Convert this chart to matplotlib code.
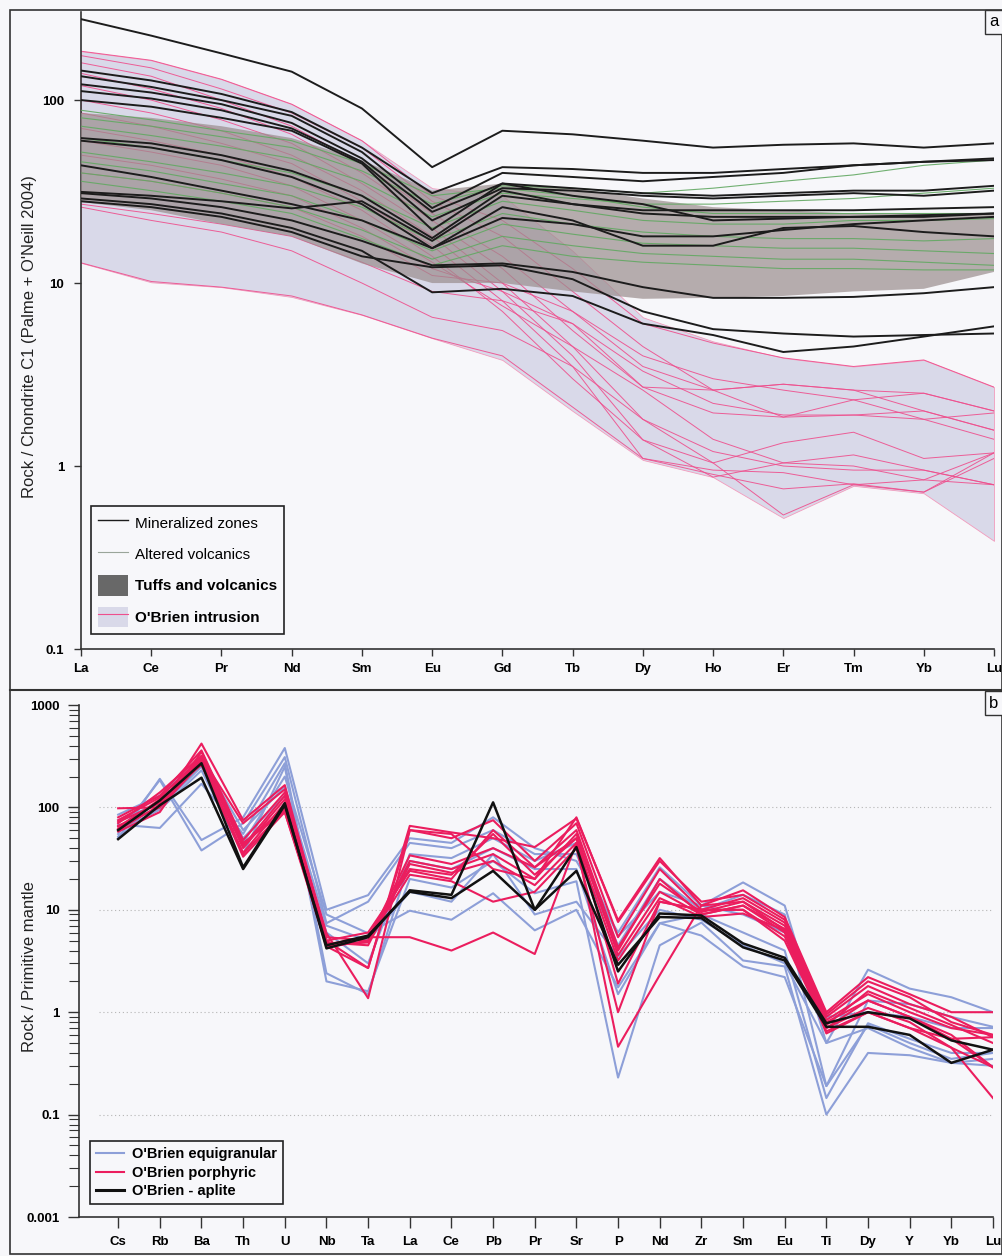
import numpy as np
import matplotlib
matplotlib.use('Agg')
import matplotlib.pyplot as plt
from matplotlib.lines import Line2D
from matplotlib.patches import Patch, Rectangle
from matplotlib.ticker import FixedLocator, FixedFormatter, LogLocator, NullFormatter

plt.rcParams['font.family'] = ['Liberation Sans', 'DejaVu Sans']

# ---------------- data: panel a (chondrite-normalised REE) ----------------
ree = ['La', 'Ce', 'Pr', 'Nd', 'Sm', 'Eu', 'Gd', 'Tb', 'Dy', 'Ho', 'Er', 'Tm', 'Yb', 'Lu']

mineralized = [
    [277, 225, 180, 143, 90, 43, 68, 65, 60, 55, 57, 58, 55, 58],
    [145, 128, 108, 86, 55, 31, 43, 42, 40, 40, 42, 44, 46, 47],
    [135, 118, 100, 82, 52, 25.7, 40, 38, 36, 38, 40, 44, 46, 48],
    [122, 110, 95, 75, 48, 24.5, 35, 33, 31, 30, 31, 32, 32, 34],
    [112, 102, 88, 70, 46, 22, 33, 32, 30, 29, 30, 31, 30, 32],
    [100, 92, 80, 68, 45, 19.5, 35, 30, 27, 22, 22.5, 23, 23, 24],
    [62, 58, 50, 41, 30, 17.6, 32, 27, 25, 25, 25, 25, 25.5, 26],
    [60, 55, 47, 38, 27, 15.5, 22.7, 21, 18, 18, 19.5, 21, 22, 23],
    [44, 38, 32, 27, 22, 15.5, 26, 22, 16, 16, 20, 20.5, 19, 18],
    [31, 29, 26, 22, 17, 12.5, 12.8, 11.5, 9.5, 8.3, 8.3, 8.4, 8.8, 9.5],
    [31.5, 30, 28, 25.6, 28, 17, 30, 27, 24, 23, 23, 23, 23.5, 24],
    [29, 27, 24, 20, 15, 8.9, 9.3, 8.5, 6.0, 5.2, 4.2, 4.5, 5.1, 5.8],
    [28, 26, 23, 19, 14, 12.2, 12.5, 10.5, 7.0, 5.6, 5.3, 5.1, 5.2, 5.3],
]

altered = [
    [80, 72, 63, 55, 41, 27, 34, 33, 31, 33, 36, 39, 44, 47],
    [72, 64, 56, 48, 36, 23, 31, 29, 27, 27, 28, 29, 31, 33],
    [62, 55, 47, 40, 30, 20, 28, 25, 22, 21, 21, 22, 22, 22.5],
    [52, 46, 40, 34, 26, 17, 24, 21, 19, 18, 17.5, 17.5, 17, 17.5],
    [46, 41, 35, 30, 22, 15, 21, 18.5, 16.5, 16, 15.5, 15.5, 15, 14.5],
    [40, 36, 31, 26, 19.5, 13.5, 18, 16, 14.5, 14, 13.5, 13.5, 13, 12.5],
    [36, 32, 28, 24, 17.5, 12.5, 16, 14, 13, 12.5, 12, 12, 11.8, 11.8],
    [88, 78, 68, 60, 45, 30, 33, 30, 26, 24, 24, 24, 24, 24],
]

tuffs_max = [85, 80, 72, 62, 47, 32, 35, 33, 29, 26, 25, 24, 24, 24]
tuffs_min = [27.7, 25, 21, 18, 12.8, 10, 10, 9, 8.2, 8.3, 8.5, 9.0, 9.3, 11.5]

obrien_max = [185, 165, 130, 95, 60, 33, 30, 15, 6.5, 4.8, 3.9, 3.5, 3.8, 2.7]
obrien_min = [12.9, 10.1, 9.5, 8.4, 6.7, 5.0, 3.8, 2.0, 1.08, 0.87, 0.52, 0.78, 0.71, 0.39]

obrien_lines = [
    [185, 165, 130, 95, 60, 30, 22, 12, 6.0, 4.7, 3.9, 3.5, 3.8, 2.7],
    [175, 150, 115, 85, 55, 28, 18, 9, 4.5, 2.6, 2.8, 2.6, 2.5, 2.0],
    [160, 135, 100, 72, 45, 24, 14, 7, 3.5, 2.6, 1.85, 1.9, 2.0, 1.57],
    [140, 115, 90, 65, 40, 22, 12, 5.5, 2.7, 1.95, 1.85, 2.3, 1.8, 1.95],
    [120, 100, 78, 58, 35, 20, 10, 4.5, 1.8, 1.04, 1.34, 1.53, 1.1, 1.18],
    [100, 85, 68, 50, 32, 18, 9, 4.0, 1.39, 0.87, 1.04, 1.15, 0.95, 0.79],
    [85, 72, 58, 45, 28, 16, 8, 3.5, 1.1, 0.95, 0.92, 0.79, 0.84, 1.18],
    [70, 60, 50, 38, 25, 14, 7, 3.0, 1.39, 1.04, 0.54, 0.79, 0.72, 1.18],
    [60, 52, 44, 34, 22, 13, 7.5, 4.5, 2.6, 1.4, 1.04, 1.0, 0.84, 0.79],
    [50, 44, 37, 30, 20, 12, 9, 6, 2.7, 2.6, 2.8, 2.6, 2.0, 1.57],
    [40, 36, 31, 26, 18, 11, 10, 7, 4, 3.0, 2.6, 2.3, 2.5, 2.0],
    [27, 24, 21, 18, 13, 9, 8, 6, 3.3, 2.2, 1.9, 1.9, 1.8, 1.4],
    [26, 22, 19, 15, 10, 6.5, 5.5, 3.5, 1.8, 1.2, 1.0, 0.95, 0.95, 0.79],
    [12.9, 10.2, 9.5, 8.5, 6.7, 5.0, 4.0, 2.1, 1.1, 0.9, 0.75, 0.8, 0.72, 1.1],
]

# ---------------- data: panel b (primitive-mantle spider) ----------------
spider = ['Cs', 'Rb', 'Ba', 'Th', 'U', 'Nb', 'Ta', 'La', 'Ce', 'Pb', 'Pr',
          'Sr', 'P', 'Nd', 'Zr', 'Sm', 'Eu', 'Ti', 'Dy', 'Y', 'Yb', 'Lu']

equigranular = [
    [50, 190, 48, 80, 380, 10, 13.9, 50, 45, 80, 40, 30, 6, 26, 11, 18.5, 11, 0.5, 2.6, 1.7, 1.4, 1.0],
    [55, 185, 38, 70, 310, 7.4, 12, 45, 40, 60, 35, 35, 4.5, 20, 10, 14, 9, 0.19, 1.3, 1.2, 0.9, 0.72],
    [68, 63, 170, 55, 270, 2.4, 1.5, 30, 25, 40, 25, 25, 1.5, 7.4, 9, 6, 4, 0.145, 0.78, 0.55, 0.4, 0.4],
    [60, 95, 230, 35, 250, 2.0, 1.6, 20, 16.5, 30, 14.5, 19, 0.23, 4.5, 7.5, 3.2, 2.8, 0.1, 0.4, 0.38, 0.32, 0.35],
    [75, 110, 280, 45, 200, 9, 5.9, 9.8, 8, 14.5, 6.3, 10, 1.75, 7.4, 5.6, 2.8, 2.2, 0.19, 0.75, 0.5, 0.35, 0.4],
    [85, 130, 300, 60, 160, 7, 5, 15, 12, 35, 9, 12, 3.5, 10, 8, 4.5, 3, 0.5, 0.7, 0.45, 0.32, 0.3],
    [52, 100, 250, 50, 130, 6, 3, 35, 32, 50, 30, 45, 5.5, 15, 11, 9, 6, 0.9, 1.0, 0.9, 0.7, 0.7],
]

porphyric = [
    [98, 100, 420, 75, 165, 5.0, 2.7, 66, 57, 50, 41, 78, 7.9, 32, 11, 15.5, 8.5, 1.0, 2.2, 1.5, 1.0, 1.0],
    [80, 130, 360, 48, 140, 5.9, 1.37, 60, 50, 75, 30, 70, 5.4, 25, 10, 13, 7.5, 0.9, 1.8, 1.2, 0.9, 0.57],
    [70, 140, 320, 42, 130, 5.4, 5.0, 34, 28, 40, 26, 60, 4.3, 18, 9.5, 12, 7, 0.84, 1.5, 1.0, 0.7, 0.6],
    [65, 115, 300, 40, 120, 4.5, 4.8, 30, 25, 35, 20, 55, 3.6, 15, 9, 11, 6.5, 0.8, 1.3, 0.9, 0.6, 0.29],
    [60, 105, 280, 36, 110, 4.8, 4.5, 28, 23, 30, 17.4, 45, 3.2, 13, 8.5, 9.2, 6.3, 0.62, 1.0, 0.7, 0.45, 0.29],
    [58, 90, 350, 45, 90, 5.0, 6.0, 24, 20, 60, 26, 50, 1.9, 12, 10, 10, 5.5, 0.7, 1.1, 0.8, 0.45, 0.145],
    [62, 120, 260, 35, 95, 4.6, 5.4, 5.4, 4.0, 6.0, 3.7, 45, 0.46, 2.3, 11, 12, 6.3, 0.65, 1.0, 0.7, 0.55, 0.57],
    [75, 125, 310, 70, 150, 4.4, 2.7, 60, 55, 25, 20, 80, 7.6, 30, 12, 14, 8, 0.95, 2.0, 1.4, 0.8, 0.6],
    [72, 110, 290, 44, 100, 4.3, 5.0, 22, 19, 12, 15, 40, 1.0, 12, 10, 10, 5, 0.7, 1.3, 0.9, 0.55, 0.29],
    [66, 100, 270, 33, 90, 4.5, 5.5, 25, 22, 55, 22, 50, 4.0, 20, 9, 11, 6, 0.75, 1.6, 1.1, 0.75, 0.5],
]

aplite = [
    [60, 117, 270, 26, 110, 4.2, 5.4, 15.5, 14, 112, 10, 41, 2.5, 9.2, 8.8, 4.7, 3.4, 0.78, 1.0, 0.87, 0.53, 0.43],
    [49, 105, 195, 25, 105, 4.5, 5.6, 15, 13, 24, 10, 24, 2.9, 8.5, 8.3, 4.3, 3.2, 0.72, 0.72, 0.6, 0.32, 0.43],
]

# ---------------- figure ----------------
W, H = 1003, 1256
BG = '#f7f7fa'
fig = plt.figure(figsize=(W / 100, H / 100), dpi=100, facecolor=BG)


def fx(px):
    return px / W


def fy(py):
    return 1 - py / H


BLACK = '#1c1c1c'
GREEN = '#62a862'
PINK = '#ee4f8d'
LAV = '#d9d9e9'
BAND = '#9a8d8d'
BLUE = '#8d9fd8'
RED = '#eb1d5e'

# ---------- panel a ----------
ax1 = fig.add_axes([fx(81), fy(649), fx(994) - fx(81), fy(12) - fy(649)])
ax1.set_facecolor('none')
xa = np.arange(len(ree))
ax1.fill_between(xa, obrien_min, obrien_max, facecolor=LAV, edgecolor='#f29bbd',
                 linewidth=0.6, zorder=1)
for row in obrien_lines:
    ax1.plot(xa, row, color=PINK, lw=0.7, alpha=0.9, zorder=2)
ax1.fill_between(xa, tuffs_min, tuffs_max, facecolor=BAND, edgecolor='none',
                 alpha=0.7, zorder=3)
for row in altered:
    ax1.plot(xa, row, color=GREEN, lw=0.8, alpha=0.9, zorder=4)
for row in mineralized:
    ax1.plot(xa, row, color=BLACK, lw=1.4, zorder=5)

ax1.set_yscale('log')
ax1.set_xlim(0, len(ree) - 1)
ax1.set_ylim(0.1, 303)
ax1.set_xticks(xa)
ax1.set_xticklabels(ree, fontweight='bold', fontsize=9.5)
ax1.yaxis.set_major_locator(FixedLocator([0.1, 1, 10, 100]))
ax1.yaxis.set_major_formatter(FixedFormatter(['0.1', '1', '10', '100']))
ax1.yaxis.set_minor_locator(FixedLocator([]))
for t in ax1.get_yticklabels():
    t.set_fontweight('bold')
    t.set_fontsize(9.5)
ax1.tick_params(axis='both', direction='out', length=5, width=1, color='#333333', pad=5)
ax1.tick_params(axis='y', pad=7)
for s in ['top', 'right']:
    ax1.spines[s].set_visible(False)
for s in ['left', 'bottom']:
    ax1.spines[s].set_color('#333333')
    ax1.spines[s].set_linewidth(1.2)
ax1.set_ylabel("Rock / Chondrite C1 (Palme + O'Neill 2004)", fontsize=12, color='#222222')
ax1.yaxis.set_label_coords(-0.048, 0.49)

h1 = [Line2D([], [], color=BLACK, lw=1.0),
      Line2D([], [], color='#9aa59a', lw=0.8),
      Patch(facecolor='#686868', edgecolor='none'),
      (Patch(facecolor=LAV, edgecolor='none'), Line2D([], [], color=PINK, lw=0.8))]
l1 = ['Mineralized zones', 'Altered volcanics', 'Tuffs and volcanics', "O'Brien intrusion"]
leg1 = ax1.legend(h1, l1, loc='lower left', bbox_to_anchor=(0.011, 0.0235), borderaxespad=0,
                  fontsize=11, frameon=True, fancybox=False, edgecolor='#222222',
                  facecolor=BG, framealpha=1, handlelength=2.0, handleheight=1.7,
                  handletextpad=0.45, labelspacing=0.7, borderpad=0.45)
leg1.get_frame().set_linewidth(1.2)
leg1.set_zorder(10)
for t in leg1.get_texts()[2:]:
    t.set_fontweight('bold')

# ---------- panel b ----------
ax2 = fig.add_axes([fx(79), fy(1217), fx(993) - fx(79), fy(705) - fy(1217)])
ax2.set_facecolor('none')
xb = np.arange(len(spider))
ax2.hlines([0.1, 1, 10, 100], -0.45, len(spider) - 1, colors='#b5b5b5',
           linestyles=(0, (1, 2.5)), lw=0.8, zorder=0)
for row in equigranular:
    ax2.plot(xb, row, color=BLUE, lw=1.5, zorder=2)
for row in porphyric:
    ax2.plot(xb, row, color=RED, lw=1.5, zorder=3)
for row in aplite:
    ax2.plot(xb, row, color='#111111', lw=1.8, zorder=4)

ax2.set_yscale('log')
ax2.set_xlim(-0.94, len(spider) - 1)
ax2.set_ylim(0.01, 1000)
ax2.set_xticks(xb)
ax2.set_xticklabels(spider, fontweight='bold', fontsize=9.5)
ax2.yaxis.set_major_locator(FixedLocator([0.01, 0.1, 1, 10, 100, 1000]))
ax2.yaxis.set_major_formatter(FixedFormatter(['0.001', '0.1', '1', '10', '100', '1000']))
ax2.yaxis.set_minor_locator(LogLocator(base=10, subs=np.arange(2, 10)))
ax2.yaxis.set_minor_formatter(NullFormatter())
for t in ax2.get_yticklabels():
    t.set_fontweight('bold')
    t.set_fontsize(9.5)
ax2.tick_params(axis='both', which='major', direction='out', length=8, width=1,
                color='#333333', pad=6)
ax2.tick_params(axis='y', which='minor', direction='out', length=7, width=0.8, color='#333333')
for s in ['top', 'right']:
    ax2.spines[s].set_visible(False)
for s in ['left', 'bottom']:
    ax2.spines[s].set_color('#333333')
    ax2.spines[s].set_linewidth(1.2)
ax2.set_ylabel('Rock / Primitive mantle', fontsize=12, color='#222222')
ax2.yaxis.set_label_coords(-0.046, 0.49)

h2 = [Line2D([], [], color=BLUE, lw=1.5),
      Line2D([], [], color=RED, lw=1.5),
      Line2D([], [], color='#111111', lw=2.2)]
l2 = ["O'Brien equigranular", "O'Brien porphyric", "O'Brien - aplite"]
leg2 = ax2.legend(h2, l2, loc='lower left', bbox_to_anchor=(0.012, 0.025), borderaxespad=0,
                  frameon=True, fancybox=False, edgecolor='#222222',
                  facecolor=BG, framealpha=1, handlelength=1.9, handletextpad=0.6,
                  labelspacing=0.32, borderpad=0.4,
                  prop={'weight': 'bold', 'size': 10.5})
leg2.get_frame().set_linewidth(1.2)

# ---------- frames and panel letters ----------
fig.add_artist(Rectangle((fx(10), fy(1254)), fx(1002) - fx(10), fy(10) - fy(1254),
                         transform=fig.transFigure, fill=False, edgecolor='#333333', lw=1.2))
fig.add_artist(Line2D([fx(10), fx(1002)], [fy(690), fy(690)], transform=fig.transFigure,
                      color='#333333', lw=1.5))
fig.text(fx(994), fy(22), 'a', fontsize=12, ha='center', va='center',
         bbox=dict(boxstyle='square,pad=0.25', facecolor=BG, edgecolor='#333333', lw=1))
fig.text(fx(994), fy(703), 'b', fontsize=12, ha='center', va='center',
         bbox=dict(boxstyle='square,pad=0.25', facecolor=BG, edgecolor='#333333', lw=1))

fig.savefig('out.png', dpi=100, facecolor=BG)
